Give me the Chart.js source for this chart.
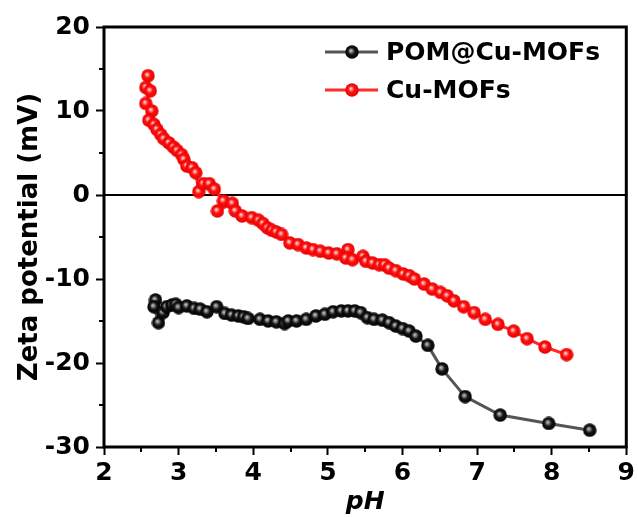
<!DOCTYPE html>
<html>
<head>
<meta charset="utf-8">
<script src="https://cdn.jsdelivr.net/npm/chart.js@4.4.1/dist/chart.umd.min.js"></script>
<style>
  html, body { margin: 0; padding: 0; background: #fff; }
  #wrap { width: 638px; height: 517px; }
</style>
</head>
<body>
<div id="wrap"><canvas id="zeta" width="638" height="517"></canvas></div>
<script>
// POM@Cu-MOFs
const phPom = [2.69, 2.67, 2.73, 2.79, 2.84, 2.91, 2.96, 3.0, 3.11, 3.21, 3.29, 3.38, 3.51, 3.62, 3.71, 3.8, 3.87, 3.93,
    4.09, 4.2, 4.31, 4.42, 4.47, 4.58, 4.71, 4.84, 4.96, 5.07, 5.18, 5.27, 5.36, 5.44, 5.53, 5.62, 5.73, 5.82, 5.91,
    6.0, 6.09, 6.18, 6.34, 6.53, 6.84, 7.31, 7.96, 8.51];
const zetaPom = [-12.5, -13.3, -15.2, -14.0, -13.3, -13.1, -13.0, -13.4, -13.2, -13.5, -13.6, -13.9, -13.3, -14.1, -14.3, -14.4, -14.5, -14.7,
    -14.8, -15.0, -15.1, -15.3, -15.0, -15.0, -14.8, -14.4, -14.2, -13.9, -13.8, -13.8, -13.8, -14.0, -14.6, -14.8, -14.9, -15.2, -15.6,
    -15.9, -16.2, -16.8, -17.9, -20.7, -24.0, -26.2, -27.2, -28.0];

// Cu-MOFs
const phCu = [2.59, 2.56, 2.62, 2.56, 2.64, 2.60, 2.67, 2.71, 2.76, 2.80, 2.87, 2.93, 2.98, 3.04, 3.07, 3.11, 3.18, 3.23,
    3.27, 3.33, 3.41, 3.48, 3.6, 3.52, 3.72, 3.76, 3.85, 3.98, 4.07, 4.13, 4.19, 4.25, 4.31, 4.38, 4.49, 4.6, 4.71, 4.8,
    4.9, 5.01, 5.12, 5.27, 5.24, 5.33, 5.47, 5.51, 5.6, 5.69, 5.76, 5.82, 5.91, 6.01, 6.09, 6.16, 6.29, 6.4, 6.51, 6.6,
    6.69, 6.82, 6.96, 7.11, 7.28, 7.49, 7.67, 7.91, 8.2];
const zetaCu = [14.2, 12.8, 12.4, 10.9, 10.0, 8.9, 8.4, 7.8, 7.2, 6.7, 6.2, 5.7, 5.3, 4.8, 4.25, 3.45, 3.25, 2.65,
    0.4, 1.35, 1.35, 0.7, -0.7, -1.9, -1.0, -1.9, -2.5, -2.7, -3.0, -3.4, -3.9, -4.2, -4.4, -4.7, -5.7, -5.9, -6.3, -6.5,
    -6.7, -6.9, -7.0, -6.5, -7.5, -7.7, -7.3, -7.9, -8.1, -8.3, -8.3, -8.7, -9.0, -9.4, -9.6, -10.0, -10.6, -11.2, -11.6, -12.0,
    -12.6, -13.3, -14.0, -14.8, -15.4, -16.2, -17.1, -18.1, -19.0];

const seriesNames = ["POM@Cu-MOFs", "Cu-MOFs"];
const xMinorTicks = [2.5, 3.5, 4.5, 5.5, 6.5, 7.5, 8.5];
const yMinorTicks = [-25, -15, -5, 5, 15];

const FONT = "'DejaVu Sans', 'Liberation Sans', Arial, sans-serif";

// shaded ball marker
function ball(r, stops) {
    const c = document.createElement("canvas");
    c.width = c.height = r * 2;
    const g = c.getContext("2d");
    const grad = g.createRadialGradient(r * 0.82, r * 0.78, 0, r, r, r);
    stops.forEach(s => grad.addColorStop(s[0], s[1]));
    g.fillStyle = grad;
    g.beginPath();
    g.arc(r, r, r - 0.3, 0, Math.PI * 2);
    g.fill();
    return c;
}
const blackBall = ball(7, [[0, "#d0d0d0"], [0.2, "#8c8c8c"], [0.5, "#151515"], [1, "#000"]]);
const redBall = ball(7, [[0, "#ffe8e8"], [0.18, "#ff9a9a"], [0.45, "#ff1010"], [1, "#e80000"]]);

const toPts = (xs, ys) => xs.map((x, i) => ({ x: x, y: ys[i] }));

const fontTick = { family: FONT, size: 25, weight: "bold" };

const framePlugin = {
    id: "frame",
    beforeDatasetsDraw(chart) {
        const { ctx, chartArea: a, scales } = chart;
        const y0 = scales.y.getPixelForValue(0);
        ctx.save();
        ctx.strokeStyle = "#000";
        ctx.lineWidth = 2;
        ctx.beginPath();
        ctx.moveTo(a.left, y0);
        ctx.lineTo(a.right, y0);
        ctx.stroke();
        ctx.restore();
    },
    afterDatasetsDraw(chart) {
        const { ctx, chartArea: a, scales } = chart;
        ctx.save();
        ctx.strokeStyle = "#000";
        ctx.lineWidth = 3;
        ctx.beginPath();
        ctx.moveTo(a.left, a.top);
        ctx.lineTo(a.right, a.top);
        ctx.lineTo(a.right, a.bottom);
        ctx.lineTo(a.left, a.bottom);
        ctx.closePath();
        ctx.stroke();

        // minor ticks
        ctx.lineWidth = 2;
        ctx.beginPath();
        xMinorTicks.forEach(v => {
            const px = Math.round(scales.x.getPixelForValue(v));
            ctx.moveTo(px, a.bottom);
            ctx.lineTo(px, a.bottom + 5);
        });
        yMinorTicks.forEach(v => {
            const py = Math.round(scales.y.getPixelForValue(v));
            ctx.moveTo(a.left, py);
            ctx.lineTo(a.left - 5, py);
        });
        ctx.stroke();

        // legend
        ctx.font = "bold 25px " + FONT;
        ctx.textBaseline = "middle";
        chart.data.datasets.forEach((ds, i) => {
            const ly = 52 + i * 38;
            ctx.strokeStyle = ds.borderColor;
            ctx.lineWidth = 3;
            ctx.beginPath();
            ctx.moveTo(325, ly);
            ctx.lineTo(378, ly);
            ctx.stroke();
            const img = ds.pointStyle;
            ctx.drawImage(img, 352 - img.width / 2, ly - img.height / 2);
            ctx.fillStyle = "#000";
            ctx.fillText(ds.label, 386, ly + 1);
        });
        ctx.restore();
    }
};

new Chart(document.getElementById("zeta"), {
    type: "line",
    data: {
        datasets: [
            {
                label: seriesNames[0],
                data: toPts(phPom, zetaPom),
                borderColor: "#555555",
                borderWidth: 3,
                pointStyle: blackBall,
                pointRadius: 7,
                tension: 0
            },
            {
                label: seriesNames[1],
                data: toPts(phCu, zetaCu),
                borderColor: "#ff2a2a",
                borderWidth: 3,
                pointStyle: redBall,
                pointRadius: 7,
                tension: 0
            }
        ]
    },
    plugins: [framePlugin],
    options: {
        responsive: false,
        animation: false,
        layout: { padding: { top: 27, right: 8, left: 0, bottom: 0 } },
        plugins: {
            legend: { display: false },
            tooltip: { enabled: false }
        },
        scales: {
            x: {
                type: "linear",
                min: 2,
                max: 9,
                afterFit: s => { s.height = 70; },
                ticks: {
                    stepSize: 1,
                    autoSkip: false,
                    maxRotation: 0,
                    color: "#000",
                    font: fontTick,
                    padding: 3
                },
                grid: {
                    drawOnChartArea: false,
                    tickLength: 8,
                    tickWidth: 2,
                    tickColor: "#000"
                },
                border: { display: false },
                title: {
                    display: true,
                    text: "pH",
                    color: "#000",
                    font: { family: FONT, size: 25, weight: "bold", style: "italic" },
                    padding: { top: 0, bottom: 0 }
                }
            },
            y: {
                min: -30,
                max: 20,
                afterFit: s => { s.width = 104; },
                ticks: {
                    stepSize: 10,
                    color: "#000",
                    font: fontTick,
                    padding: 6
                },
                grid: {
                    drawOnChartArea: false,
                    tickLength: 8,
                    tickWidth: 2,
                    tickColor: "#000"
                },
                border: { display: false },
                title: {
                    display: true,
                    text: "Zeta potential (mV)",
                    color: "#000",
                    font: { family: FONT, size: 26, weight: "bold" },
                    padding: { top: 15, bottom: 0 }
                }
            }
        }
    }
});
</script>
</body>
</html>
